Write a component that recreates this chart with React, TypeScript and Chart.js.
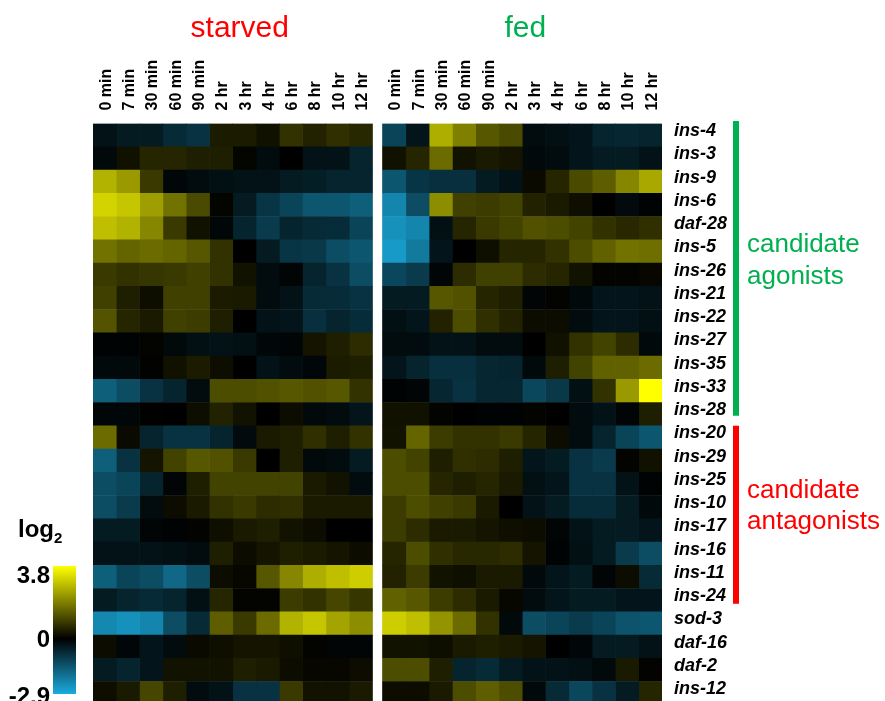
import { useEffect, useRef } from "react";
import { Chart, registerables } from "chart.js";

Chart.register(...registerables);

// ---------- data ----------
const genes = [
  "ins-4", "ins-3", "ins-9", "ins-6", "daf-28", "ins-5", "ins-26", "ins-21", "ins-22",
  "ins-27", "ins-35", "ins-33", "ins-28", "ins-20", "ins-29", "ins-25", "ins-10",
  "ins-17", "ins-16", "ins-11", "ins-24", "sod-3", "daf-16", "daf-2", "ins-12",
];
const timeLabels = ["0 min", "7 min", "30 min", "60 min", "90 min", "2 hr", "3 hr", "4 hr", "6 hr", "8 hr", "10 hr", "12 hr"];
const conditions = ["starved", "fed"];
const groupLabels = [["candidate", "agonists"], ["candidate", "antagonists"]];
const groupRows = [[0, 12], [13, 20]]; // first and last gene index of each group
const colorMax = 3.8;
const colorMin = -2.9;
const colorTicks = ["3.8", "0", "-2.9"];

const starved = [
  [-0.3, -0.45, -0.45, -0.7, -0.85, 0.4, 0.4, 0.25, 0.75, 0.5, 0.7, 0.6],
  [-0.15, 0.25, 0.55, 0.55, 0.45, 0.45, 0.08, -0.2, 0, -0.3, -0.3, -0.6],
  [2.65, 2.3, 0.85, -0.1, -0.2, -0.25, -0.3, -0.3, -0.45, -0.5, -0.6, -0.6],
  [3.15, 2.95, 2.35, 1.7, 1.1, 0.08, -0.45, -0.9, -1.15, -1.45, -1.45, -1.6],
  [2.85, 2.65, 2.0, 0.85, 0.25, -0.12, -0.6, -1.0, -0.6, -0.7, -0.75, -1.15],
  [1.7, 1.5, 1.6, 1.5, 1.3, 0.75, 0, -0.45, -0.9, -0.95, -1.3, -1.45],
  [0.85, 0.75, 0.8, 0.85, 0.95, 0.75, 0.27, -0.2, -0.08, -0.6, -0.85, -1.3],
  [0.95, 0.45, 0.2, 0.95, 0.95, 0.4, 0.38, -0.2, -0.3, -0.7, -0.75, -0.85],
  [1.25, 0.55, 0.38, 0.95, 0.9, 0.45, 0, -0.3, -0.35, -0.8, -0.6, -0.75],
  [-0.05, -0.05, 0.05, -0.15, -0.25, -0.3, -0.25, -0.12, -0.08, 0.3, 0.45, 0.65],
  [-0.15, -0.15, 0.03, 0.25, 0.4, 0.2, 0, -0.3, -0.2, -0.1, 0.4, 0.45],
  [-1.6, -1.3, -0.85, -0.6, -0.2, 1.15, 1.15, 1.2, 1.3, 1.2, 1.3, 0.75],
  [-0.12, -0.12, 0.02, 0, 0.2, 0.5, 0.27, 0, 0.18, -0.15, -0.2, -0.35],
  [1.6, 0.15, -0.6, -0.85, -0.85, -0.6, -0.17, 0.38, 0.45, 0.7, 0.45, 0.75],
  [-1.6, -0.85, 0.3, 1.0, 1.3, 1.2, 0.85, 0, 0.45, -0.15, -0.2, -0.45],
  [-1.3, -1.15, -0.6, -0.08, 0.45, 1.0, 1.0, 1.0, 1.0, 0.38, 0.27, -0.2],
  [-1.3, -1.0, -0.2, 0.18, 0.38, 0.75, 0.85, 0.65, 0.7, 0.38, 0.38, 0.38],
  [-0.45, -0.45, -0.08, -0.05, 0.05, 0.22, 0.38, 0.45, 0.27, 0.18, 0, 0],
  [-0.3, -0.3, -0.3, -0.25, -0.2, 0.45, 0.18, 0.3, 0.45, 0.38, 0.3, 0.18],
  [-1.6, -1.15, -1.3, -1.75, -1.3, 0.18, 0.1, 1.3, 2.0, 2.6, 2.85, 3.05],
  [-0.45, -0.6, -0.7, -0.6, -0.25, 0.55, 0.05, 0.05, 0.9, 0.75, 1.05, 0.8],
  [-2.3, -2.45, -2.25, -1.3, -0.7, 1.4, 0.85, 1.6, 2.65, 2.95, 2.45, 2.1],
  [0.18, -0.1, -0.35, -0.2, 0.15, 0.22, 0.3, 0.3, 0.22, 0.05, -0.08, -0.08],
  [-0.45, -0.6, -0.35, 0.27, 0.27, 0.27, 0.45, 0.38, 0.18, 0.1, 0.1, 0.18],
  [0.2, 0.38, 1.05, 0.45, -0.2, -0.3, -0.85, -0.85, 0.85, 0.27, 0.27, 0.38],
];

const fed = [
  [-1.15, -0.35, 2.6, 1.9, 1.3, 1.1, -0.2, -0.25, -0.35, -0.6, -0.65, -0.6],
  [0.25, 0.55, 1.6, 0.27, 0.38, 0.3, -0.15, -0.2, -0.35, -0.45, -0.45, -0.3],
  [-1.45, -0.9, -0.8, -0.8, -0.45, -0.3, 0.15, 0.55, 1.1, 1.4, 2.0, 2.5],
  [-2.25, -1.3, 2.1, 0.95, 0.9, 1.0, 0.5, 0.38, 0.23, 0, -0.17, -0.05],
  [-2.45, -2.25, -0.25, 0.55, 0.85, 1.0, 1.2, 1.15, 1.0, 0.75, 0.6, 0.7],
  [-2.6, -2.05, -0.35, 0, 0.22, 0.55, 0.55, 0.75, 1.15, 1.45, 1.7, 1.65],
  [-1.2, -1.0, -0.08, 0.65, 0.95, 0.95, 0.65, 0.55, 0.27, 0.05, 0.05, 0.1],
  [-0.45, -0.45, 1.3, 1.2, 0.55, 0.45, -0.08, 0.05, -0.15, -0.35, -0.35, -0.3],
  [-0.25, -0.35, 0.5, 1.15, 0.7, 0.5, 0.18, 0.18, -0.2, -0.35, -0.35, -0.25],
  [-0.2, -0.2, -0.3, -0.3, -0.2, -0.2, 0, 0.25, 0.75, 1.0, 0.65, -0.15],
  [-0.35, -0.6, -0.8, -0.8, -0.65, -0.6, -0.15, 0.45, 1.0, 1.45, 1.45, 1.6],
  [-0.05, -0.08, -0.65, -0.85, -0.65, -0.65, -1.2, -0.95, -0.25, 0.75, 2.3, 3.8],
  [0.25, 0.25, 0.05, 0, -0.05, -0.05, 0.05, 0, -0.2, -0.3, -0.08, 0.45],
  [0.27, 1.5, 0.9, 0.75, 0.75, 0.85, 0.55, 0.18, -0.2, -0.6, -1.15, -1.45],
  [1.15, 1.0, 0.45, 0.7, 0.65, 0.45, -0.35, -0.45, -0.85, -1.0, 0.05, 0.25],
  [1.15, 1.15, 0.55, 0.45, 0.55, 0.38, -0.25, -0.35, -0.85, -0.85, -0.3, -0.05],
  [0.9, 1.15, 0.95, 0.85, 0.38, 0, -0.3, -0.45, -0.75, -0.75, -0.45, -0.15],
  [0.9, 0.65, 0.38, 0.38, 0.3, 0.22, 0.18, -0.08, -0.3, -0.45, -0.45, -0.35],
  [0.55, 1.15, 0.7, 0.6, 0.6, 0.65, 0.3, -0.05, -0.25, -0.45, -1.0, -1.3],
  [0.5, 0.9, 0.27, 0.22, 0.38, 0.38, -0.15, -0.35, -0.45, -0.08, 0.18, -0.7],
  [1.45, 1.3, 0.9, 0.65, 0.38, 0.1, -0.2, -0.35, -0.45, -0.45, -0.35, -0.35],
  [3.05, 2.85, 2.2, 1.6, 0.75, -0.15, -1.3, -1.15, -1.0, -1.15, -1.4, -1.45],
  [0.27, 0.27, 0.2, 0.38, 0.45, 0.38, 0.3, 0, -0.12, -0.45, -0.45, -0.3],
  [1.15, 1.15, 0.45, -0.6, -0.7, -0.45, -0.3, -0.3, -0.25, -0.15, 0.38, 0.05],
  [0.18, 0.18, 0.38, 1.15, 1.4, 1.15, -0.15, -0.7, -1.2, -0.85, -0.45, 0.55],
];

// ---------- styling ----------
const FONT = "'Liberation Sans', Arial, Helvetica, sans-serif";
const YELLOW = [255, 255, 0];
const CYAN = [26, 172, 222];
const RED = "#ff0000";
const GREEN = "#00b050";
const GAP = 0.43; // white gap between the two blocks, in column units

function heatColor(v: number): string {
  if (v >= 0) {
    const t = Math.min(v / colorMax, 1);
    return `rgb(${Math.round(YELLOW[0] * t)},${Math.round(YELLOW[1] * t)},${Math.round(YELLOW[2] * t)})`;
  }
  const t = Math.min(v / colorMin, 1);
  return `rgb(${Math.round(CYAN[0] * t)},${Math.round(CYAN[1] * t)},${Math.round(CYAN[2] * t)})`;
}

const blocks = [starved, fed];
const nCols = timeLabels.length;
const colStart = (b: number, c: number) => b * (nCols + GAP) + c;

const datasets: any[] = [];
blocks.forEach((vals, b) => {
  timeLabels.forEach((_, c) => {
    datasets.push({
      label: `${conditions[b]} ${timeLabels[c]}`,
      data: genes.map(() => [colStart(b, c), colStart(b, c) + 1]),
      backgroundColor: genes.map((_, r) => heatColor(vals[r][c])),
      borderWidth: 0,
      borderSkipped: false,
      barPercentage: 1,
      categoryPercentage: 1,
      grouped: false,
    });
  });
});

const tickCenters: number[] = [];
blocks.forEach((_, b) => timeLabels.forEach((__, c) => tickCenters.push(colStart(b, c) + 0.5)));

const annotations = {
  id: "annotations",
  afterDraw(chart: any) {
    const { ctx, scales } = chart;
    const x = scales.x;
    const y = scales.y;
    ctx.save();
    // titles
    ctx.textAlign = "center";
    ctx.textBaseline = "alphabetic";
    ctx.font = `30px ${FONT}`;
    const titleColors = [RED, GREEN];
    conditions.forEach((t, b) => {
      const cx = (x.getPixelForValue(colStart(b, 0)) + x.getPixelForValue(colStart(b, nCols))) / 2 + (b === 0 ? 7 : 3);
      ctx.fillStyle = titleColors[b];
      ctx.fillText(t, cx, 37);
    });

    // group bars and labels
    const rowH = y.getPixelForValue(1) - y.getPixelForValue(0);
    const groupColors = [GREEN, RED];
    const insets = [[-2.5, 10], [0, 8]];
    const textOffsets = [[-16, 16], [-17, 14]];
    groupRows.forEach(([r0, r1], g) => {
      const top = y.getPixelForValue(r0) - rowH / 2 + insets[g][0];
      const bot = y.getPixelForValue(r1) + rowH / 2 - insets[g][1];
      ctx.fillStyle = groupColors[g];
      ctx.fillRect(733, top, 6, bot - top);
      ctx.font = `26px ${FONT}`;
      ctx.textAlign = "left";
      const mid = (top + bot) / 2;
      ctx.fillText(groupLabels[g][0], 747, mid + textOffsets[g][0]);
      ctx.fillText(groupLabels[g][1], 747, mid + textOffsets[g][1]);
    });

    // color bar
    const cbX = 53, cbW = 23, cbTop = 566, cbBot = 694;
    const zeroFrac = colorMax / (colorMax - colorMin);
    const grad = ctx.createLinearGradient(0, cbTop, 0, cbBot);
    grad.addColorStop(0, `rgb(${YELLOW.join(",")})`);
    grad.addColorStop(zeroFrac, "rgb(0,0,0)");
    grad.addColorStop(1, `rgb(${CYAN.join(",")})`);
    ctx.fillStyle = grad;
    ctx.fillRect(cbX, cbTop, cbW, cbBot - cbTop);

    ctx.fillStyle = "#000";
    ctx.font = `bold 24px ${FONT}`;
    ctx.textAlign = "right";
    const zeroY = cbTop + (cbBot - cbTop) * zeroFrac;
    ctx.fillText(colorTicks[0], 50, cbTop + 17);
    ctx.fillText(colorTicks[1], 50, zeroY + 8.5);
    ctx.fillText(colorTicks[2], 50, cbBot + 10);

    ctx.textAlign = "left";
    ctx.fillText("log", 18, 537);
    const w = ctx.measureText("log").width;
    ctx.font = `bold 15px ${FONT}`;
    ctx.fillText("2", 18 + w, 543);
    ctx.restore();
  },
};

export default function App() {
  const ref = useRef<HTMLCanvasElement>(null);
  useEffect(() => {
    document.documentElement.style.overflow = "hidden";
    document.body.style.overflow = "hidden";
    const chart = new Chart(ref.current as HTMLCanvasElement, {
      type: "bar",
      data: { labels: genes, datasets },
      options: {
        indexAxis: "y",
        animation: false,
        responsive: false,
        devicePixelRatio: 1,
        layout: { padding: { left: 93, right: 0, top: 0, bottom: 5.25 } },
        plugins: { legend: { display: false }, tooltip: { enabled: false } },
        scales: {
          x: {
            type: "linear",
            position: "top",
            min: 0,
            max: 2 * nCols + GAP,
            grid: { display: false, drawTicks: false },
            border: { display: false },
            afterBuildTicks: (axis: any) => {
              axis.ticks = tickCenters.map((v) => ({ value: v }));
            },
            afterFit: (axis: any) => {
              axis.height = 123.5;
              axis.paddingLeft = 0;
              axis.paddingRight = 0;
            },
            ticks: {
              autoSkip: false,
              minRotation: 90,
              maxRotation: 90,
              padding: 13,
              labelOffset: 21,
              color: "#000",
              font: { family: FONT, weight: "bold", size: 16 },
              callback: (_v: any, i: number) => timeLabels[i % nCols],
            },
          },
          y: {
            type: "category",
            position: "right",
            grid: { display: false, drawTicks: false },
            border: { display: false },
            afterFit: (axis: any) => {
              axis.width = 223;
              axis.paddingTop = 0;
              axis.paddingBottom = 0;
            },
            ticks: {
              autoSkip: false,
              padding: 12,
              labelOffset: -4,
              color: "#000",
              font: { family: FONT, weight: "bold", style: "italic", size: 18 },
            },
          },
        },
      } as any,
      plugins: [annotations],
    });
    return () => chart.destroy();
  }, []);
  return (
    <div style={{ position: "fixed", left: 0, top: 0, width: 885, height: 701, overflow: "hidden", background: "#fff" }}>
      <canvas ref={ref} width={885} height={710} style={{ display: "block", width: 885, height: 710 }} />
    </div>
  );
}
